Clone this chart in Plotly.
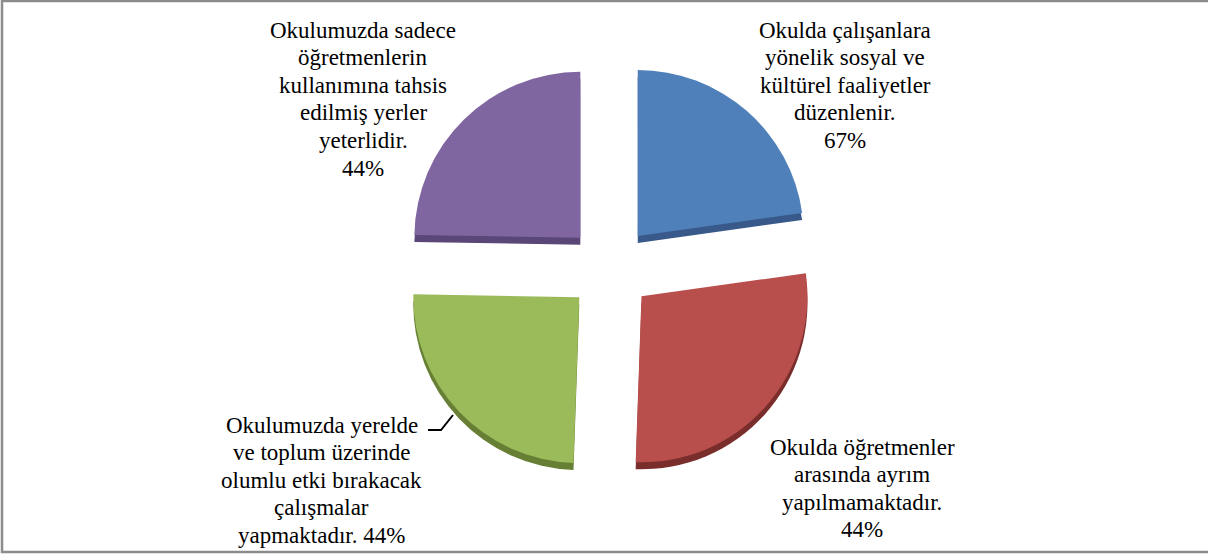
import plotly.graph_objects as go

# ---- data ----
categories = [
    "Okulda çalışanlara<br>yönelik sosyal ve<br>kültürel faaliyetler<br>düzenlenir.",
    "Okulda öğretmenler<br>arasında ayrım<br>yapılmamaktadır.",
    "Okulumuzda yerelde<br>ve toplum üzerinde<br>olumlu etki bırakacak<br>çalışmalar<br>yapmaktadır.",
    "Okulumuzda sadece<br>öğretmenlerin<br>kullanımına tahsis<br>edilmiş yerler<br>yeterlidir.",
]
pct_labels = ["67%", "44%", "44%", "44%"]
# slice sizes as drawn (degrees)
slice_sizes = [82, 100, 89, 89]

top_colors = ["#4F80BA", "#B94F4C", "#9BBA5A", "#8066A1"]
side_colors = ["#38598A", "#7A2E2C", "#667F34", "#5A4677"]

W, H = 1208, 556
cx, cy, r = 610, 268, 166
pull = 0.255
size = 2 * r * (1 + pull)
depth = 7

def px_x(x):
    return x / W

def px_y(y):
    return 1 - y / H

dom_x = [px_x(cx - size / 2), px_x(cx + size / 2)]
dom_y = [px_y(cy + size / 2), px_y(cy - size / 2)]
slice_ids = [c.replace("<br>", " ") for c in categories]

fig = go.Figure()
# side (depth) layer
fig.add_trace(go.Pie(
    values=slice_sizes, labels=slice_ids, sort=False, direction="clockwise",
    rotation=0, pull=[pull] * 4, textinfo="none", hoverinfo="skip",
    marker=dict(colors=side_colors, line=dict(width=0)),
    domain=dict(x=dom_x, y=[dom_y[0] - depth / H, dom_y[1] - depth / H]),
    showlegend=False,
))
# top face
fig.add_trace(go.Pie(
    values=slice_sizes, labels=slice_ids,
    sort=False, direction="clockwise", rotation=0, pull=[pull] * 4,
    textinfo="none", marker=dict(colors=top_colors, line=dict(width=0)),
    domain=dict(x=dom_x, y=dom_y), showlegend=False,
))

FONT = "Liberation Serif, Times New Roman, serif"
FONT_SIZE = 23
LINE_STEP = 27.6
label_pos = [(845, 30), (862, 447), (322, 425), (363, 30)]  # centre x, first-line y
annotations = []
for txt, pct, (lx, ly) in zip(categories, pct_labels, label_pos):
    lines = txt.split("<br>")
    if txt.endswith("yapmaktadır."):
        lines[-1] = lines[-1] + " " + pct
    else:
        lines.append(pct)
    for i, line in enumerate(lines):
        annotations.append(dict(
            x=px_x(lx), y=px_y(ly + i * LINE_STEP), xref="paper", yref="paper",
            text=line, showarrow=False, xanchor="center", yanchor="middle",
            align="center", font=dict(family=FONT, size=FONT_SIZE, color="black"),
        ))

shapes = [
    dict(type="rect", xref="paper", yref="paper",
         x0=px_x(2), x1=px_x(1215), y0=px_y(552), y1=px_y(1),
         line=dict(color="#8C8C8C", width=2.5), fillcolor="rgba(0,0,0,0)"),
    dict(type="path", xref="paper", yref="paper",
         path=f"M {px_x(428)} {px_y(430)} L {px_x(441)} {px_y(430)} L {px_x(453)} {px_y(415)}",
         line=dict(color="black", width=2)),
]

fig.update_layout(
    width=W, height=H, margin=dict(l=0, r=0, t=0, b=0),
    paper_bgcolor="white", plot_bgcolor="white",
    annotations=annotations, shapes=shapes, showlegend=False,
)

fig.write_html("out.html", config={"displayModeBar": False},
               post_script="document.body.style.margin='0';")
